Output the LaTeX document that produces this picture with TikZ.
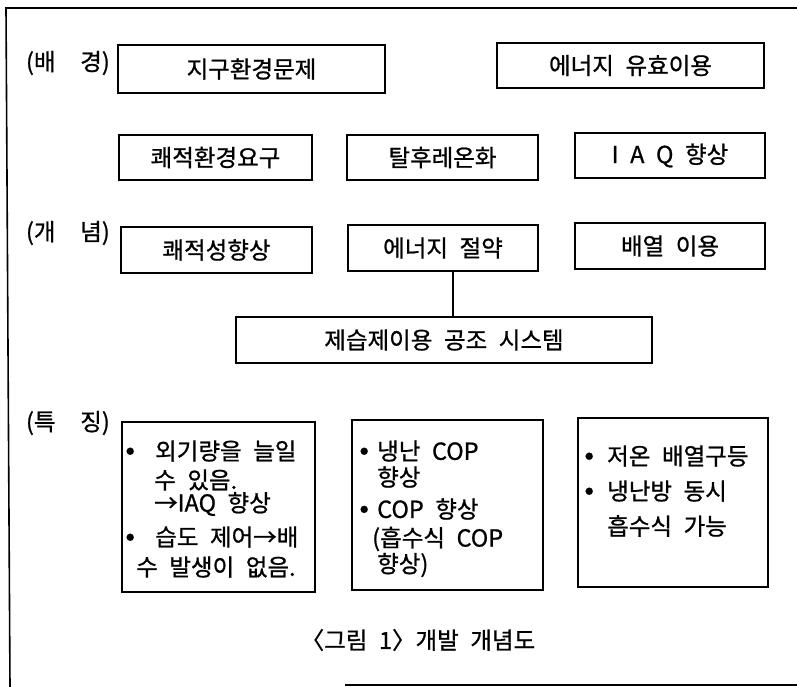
\documentclass[tikz,border=0pt]{standalone}
\usepackage{fontspec}
\setmainfont[WordSpace=2.2, FakeBold=0.9]{Noto Sans CJK KR}
\newcommand\fs{\fontsize{23.5}{27}\selectfont}
\newcommand\bul[1]{\makebox[#1][l]{\raisebox{5.5pt}{\fontsize{8}{8}\selectfont ●}}}
\tikzset{
  bx/.style={draw, line width=1.3pt, inner sep=0pt, font=\fs},
  lbl/.style={inner sep=0pt, font=\fs, anchor=east},
  ln/.style={inner sep=0pt, font=\fs, anchor=west},
  frame/.style={line width=1.6pt},
}
\begin{document}
\begin{tikzpicture}[x=1pt, y=-1pt]
\useasboundingbox (0,0) rectangle (797,687);
% frame
\draw[frame] (797,8) -- (6,8) -- (10,687);
\draw[frame] (345,685) -- (797,685);
% labels
\node[lbl] (l1) at (110,63) {(배\hspace{1.05em}경)};
\node[lbl] (l2) at (110,233) {(개\hspace{1.05em}념)};
\node[lbl] (l3) at (110,423) {(특\hspace{1.05em}징)};
% background row
\node[bx, minimum width=267pt, minimum height=48pt] (g) at (251.5,69) {지구환경문제};
\node[bx, minimum width=267pt, minimum height=45pt] (u) at (630.5,65.5) {에너지 유효이용};
\node[bx, minimum width=193pt, minimum height=45pt] (k) at (215.5,157.5) {쾌적환경요구};
\node[bx, minimum width=191pt, minimum height=45pt] (t) at (442.5,157.5) {탈후레온화};
\node[bx, minimum width=190pt, minimum height=45pt] (q) at (670,155.5) {I A Q 향상};
% concept row
\node[bx, minimum width=191pt, minimum height=46pt] (c) at (216.5,250) {쾌적성향상};
\node[bx, minimum width=190pt, minimum height=46pt] (e) at (443,248) {에너지 절약};
\node[bx, minimum width=190pt, minimum height=46pt] (h) at (670,246) {배열 이용};
\node[bx, minimum width=416pt, minimum height=46pt] (s) at (444,340) {제습제이용 공조 시스템};
\draw[line width=1.3pt] ([xshift=10pt]e.south) -- ([xshift=10pt]e.south |- s.north);
% feature boxes
\node[bx, minimum width=193pt, minimum height=170pt] (f1) at (218.5,507) {};
\node[bx, minimum width=191pt, minimum height=170pt] (f2) at (447.5,505) {};
\node[bx, minimum width=190pt, minimum height=169pt] (f3) at (673,502.5) {};
% box 1 text
\node[ln] (a1) at (126,451) {\bul{29pt}외기량을 늘일};
\node[ln] (a2) at (154,480) {수 있음.};
\node[ln] (a3) at (154,504) {→IAQ 향상};
\node[ln] (a4) at (126,537) {\bul{29pt}습도 제어→배};
\node[ln] (a5) at (136,567) {수 발생이 없음.};
% box 2 text
\node[ln] (b1) at (360,451) {\bul{17pt}냉난 COP};
\node[ln] (b2) at (377,477) {향상};
\node[ln] (b3) at (360,509) {\bul{17pt}COP 향상};
\node[ln] (b4) at (372,539) {(흡수식 COP};
\node[ln] (b5) at (377,565) {향상)};
% box 3 text
\node[ln] (c1) at (585,456) {\bul{22pt}저온 배열구등};
\node[ln] (c2) at (585,491) {\bul{22pt}냉난방 동시};
\node[ln] (c3) at (607,526) {흡수식 가능};
% caption
\node[inner sep=0pt, font=\fs] (cap) at (418,640) {〈그림 1〉개발 개념도};
\end{tikzpicture}
\end{document}
